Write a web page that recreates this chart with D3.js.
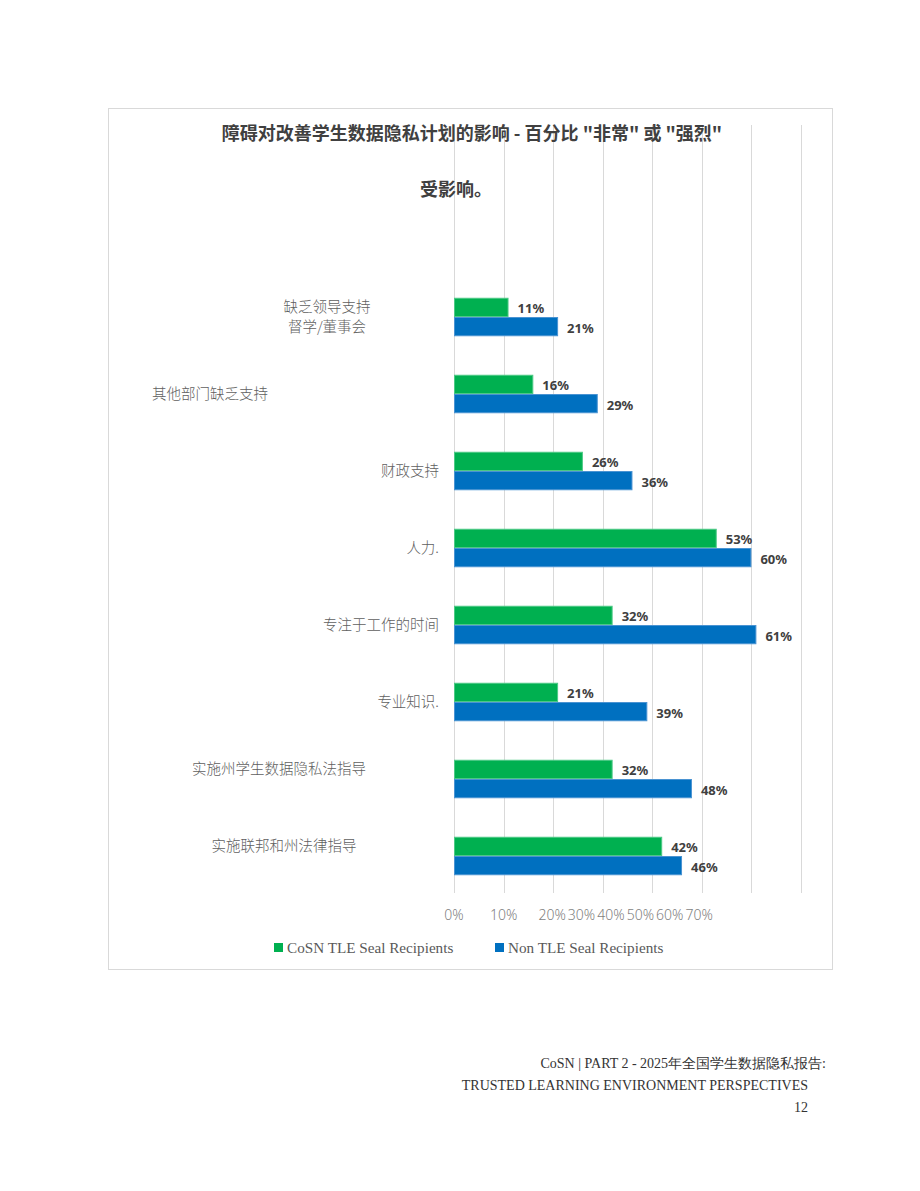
<!DOCTYPE html>
<html>
<head>
<meta charset="utf-8">
<script src="https://cdn.jsdelivr.net/npm/d3@7"></script>
<style>
  body { margin: 0; background: #fff; }
  svg { display: block; }
</style>
</head>
<body>
<div id="chart"></div>
<script>
// data
const categories = [
    ["缺乏领导支持", "督学/董事会"],
    ["其他部门缺乏支持"],
    ["财政支持"],
    ["人力."],
    ["专注于工作的时间"],
    ["专业知识."],
    ["实施州学生数据隐私法指导"],
    ["实施联邦和州法律指导"]
];
const seriesNames = ["CoSN TLE Seal Recipients", "Non TLE Seal Recipients"];
const cosnValues = [11, 16, 26, 53, 32, 21, 32, 42];
const nonTleValues = [21, 29, 36, 60, 61, 39, 48, 46];
const tickValues = [0, 10, 20, 30, 40, 50, 60, 70];
const titleLines = ["障碍对改善学生数据隐私计划的影响 - 百分比 \"非常\" 或 \"强烈\"", "受影响。"];
const footerLines = ["CoSN | PART 2 - 2025年全国学生数据隐私报告:", "TRUSTED LEARNING ENVIRONMENT PERSPECTIVES", "12"];

// label placement quirks of the original (anchor, x, dy)
const labelLayout = [
    { anchor: "middle", x: 327, dy: 0 },
    { anchor: "middle", x: 210, dy: 0 },
    { anchor: "end", x: 439, dy: 0 },
    { anchor: "end", x: 439, dy: 0 },
    { anchor: "end", x: 439, dy: 0 },
    { anchor: "end", x: 439, dy: 0 },
    { anchor: "middle", x: 279, dy: -10 },
    { anchor: "middle", x: 284, dy: -10 }
];

const W = 920, H = 1191;
const colors = ["#00B050", "#0070C0"];
const strokes = ["#4cc985", "#4a93d2"];
const cjk = "'Noto Sans CJK SC', 'Noto Sans', sans-serif";
const serif = "'Liberation Serif', 'DejaVu Serif', serif";

const svg = d3.select("#chart").append("svg")
    .attr("width", W)
    .attr("height", H);

// frame
svg.append("rect")
    .attr("x", 108.5).attr("y", 108.5)
    .attr("width", 724).attr("height", 861)
    .attr("fill", "#fff")
    .attr("stroke", "#d9d9d9");

const x = d3.scaleLinear().domain([0, 70]).range([454, 801]);
const y = d3.scaleBand()
    .domain(d3.range(categories.length))
    .range([278.5, 894.5])
    .paddingInner(0.5)
    .paddingOuter(0.25);
const sub = d3.scaleBand().domain([0, 1]).range([0, y.bandwidth()]);

// gridlines
svg.append("g")
    .selectAll("line")
    .data(tickValues)
    .join("line")
    .attr("x1", d => Math.round(x(d)) + 0.5)
    .attr("x2", d => Math.round(x(d)) + 0.5)
    .attr("y1", 125)
    .attr("y2", 893)
    .attr("stroke", "#d9d9d9")
    .attr("stroke-width", 1);

// title
const titleX = [472, 456];
svg.append("g")
    .selectAll("text")
    .data(titleLines)
    .join("text")
    .attr("x", (d, i) => titleX[i])
    .attr("y", (d, i) => 140 + i * 56)
    .attr("text-anchor", "middle")
    .attr("font-family", cjk)
    .attr("font-weight", 700)
    .attr("font-size", 18)
    .attr("fill", "#404040")
    .text(d => d);

// bars
const rows = categories.map((c, i) => [cosnValues[i], nonTleValues[i]]);
const groups = svg.append("g")
    .selectAll("g")
    .data(rows)
    .join("g")
    .attr("transform", (d, i) => `translate(0,${y(i)})`);

groups.selectAll("rect")
    .data(d => d)
    .join("rect")
    .attr("x", x(0) + 0.5)
    .attr("y", (d, j) => sub(j) + 0.5)
    .attr("width", d => x(d) - x(0) - 1)
    .attr("height", sub.bandwidth() - 1)
    .attr("fill", (d, j) => colors[j])
    .attr("stroke", (d, j) => strokes[j])
    .attr("stroke-width", 1);

groups.selectAll("text")
    .data(d => d)
    .join("text")
    .attr("x", d => x(d) + 9)
    .attr("y", (d, j) => sub(j) + sub.bandwidth() / 2 + 1.5)
    .attr("dy", "0.35em")
    .attr("font-family", "'Noto Sans', sans-serif")
    .attr("font-weight", 700)
    .attr("font-size", 13)
    .attr("fill", "#404040")
    .text(d => d + "%");

// category labels
const labels = svg.append("g")
    .selectAll("text")
    .data(categories)
    .join("text")
    .attr("text-anchor", (d, i) => labelLayout[i].anchor)
    .attr("font-family", cjk)
    .attr("font-weight", 300)
    .attr("font-size", 14.5)
    .attr("fill", "#606060");

labels.selectAll("tspan")
    .data((d, i) => d.map((t, k) => ({ t, k, n: d.length, i })))
    .join("tspan")
    .attr("x", d => labelLayout[d.i].x)
    .attr("y", d => y(d.i) + y.bandwidth() / 2 + labelLayout[d.i].dy + (d.k - (d.n - 1) / 2) * 20)
    .attr("dy", "0.35em")
    .text(d => d.t);

// axis ticks (labels 20%..70% are packed together in the original)
const axis = svg.append("g")
    .attr("transform", "translate(0,893)")
    .call(d3.axisBottom(x).tickValues(tickValues).tickSize(0).tickFormat(d => d + "%"));
axis.select(".domain").remove();
axis.selectAll(".tick")
    .attr("transform", d => `translate(${d < 20 ? x(d) : x(20) - 1 + (d - 20) / 10 * 29.4},0)`);
axis.selectAll("text")
    .attr("y", 22)
    .attr("dy", "0.35em")
    .attr("font-family", "'Noto Sans', sans-serif")
    .attr("font-weight", 300)
    .attr("font-size", 14)
    .attr("fill", "#7f7f7f");

// legend
const legendX = [274, 495];
const legend = svg.append("g")
    .selectAll("g")
    .data(seriesNames)
    .join("g")
    .attr("transform", (d, i) => `translate(${legendX[i]},943)`);
legend.append("rect")
    .attr("width", 9).attr("height", 9)
    .attr("fill", (d, i) => colors[i]);
legend.append("text")
    .attr("x", 13)
    .attr("y", 5)
    .attr("dy", "0.35em")
    .attr("font-family", serif)
    .attr("font-size", 15.2)
    .attr("fill", "#595959")
    .text(d => d);

// footer
const footerRight = [826, 808, 808];
svg.append("g")
    .selectAll("text")
    .data(footerLines)
    .join("text")
    .attr("x", (d, i) => footerRight[i])
    .attr("y", (d, i) => 1063 + i * 22)
    .attr("dy", "0.35em")
    .attr("text-anchor", "end")
    .attr("font-family", serif)
    .attr("font-size", 14)
    .attr("fill", "#333")
    .text(d => d);
</script>
</body>
</html>
